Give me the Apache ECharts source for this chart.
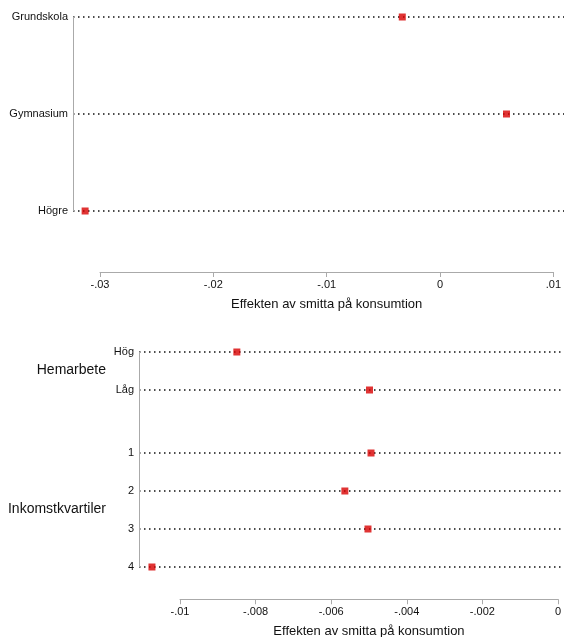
<!DOCTYPE html>
<html>
<head>
<meta charset="utf-8">
<script src="https://cdn.jsdelivr.net/npm/echarts@6/dist/echarts.min.js"></script>
<style>html,body{margin:0;padding:0;background:#fff}#c{width:564px;height:637px}</style>
</head>
<body>
<div id="c"></div>
<script>
const topCategories = ['Grundskola', 'Gymnasium', 'Högre'];
const topValues = [-0.0036, 0.0055, -0.0313];
const topTicks = ['-.03', '-.02', '-.01', '0', '.01'];

const hemCategories = ['Hög', 'Låg'];
const hemValues = [-0.0085, -0.0050];
const inkCategories = ['1', '2', '3', '4'];
const inkValues = [-0.00496, -0.00565, -0.00504, -0.01074];
const botTicks = ['-.01', '-.008', '-.006', '-.004', '-.002', '0'];

const axisTitle = 'Effekten av smitta på konsumtion';
const groupHem = 'Hemarbete';
const groupInk = 'Inkomstkvartiler';

const FONT = '"Liberation Sans", Arial, Helvetica, sans-serif';
const W = 564;
const RED = '#d80000';
const GREY = '#aaaaaa';

// top panel layout
const tAxisL = 100, tAxisR = 558, tMin = -0.03, tMax = 0.01;
const tScale = (tAxisR - tAxisL) / (tMax - tMin);
const tDataL = 73;
const tDataMin = tMin - (tAxisL - tDataL) / tScale;
const tDataMax = tMin + (W - tAxisL) / tScale;

// bottom panel layout
const bAxisL = 180, bAxisR = 559, bMin = -0.01, bMax = 0;
const bScale = (bAxisR - bAxisL) / (bMax - bMin);
const bDataL = 139;
const bDataMin = bMin - (bAxisL - bDataL) / bScale;
const bDataMax = bMin + (W - bAxisL) / bScale;

const dotted = { show: true, lineStyle: { color: '#111', width: 1.5, type: [1.5, 3.5] } };
const catLabel = { color: '#111', fontSize: 11, fontFamily: FONT, margin: 5 };

function hiddenX(gi, min, max) {
  return { type: 'value', gridIndex: gi, min: min, max: max, show: false, splitLine: { show: false } };
}
function catY(gi, cats, showLine) {
  return {
    type: 'category', gridIndex: gi, data: cats, inverse: true, boundaryGap: false,
    axisLine: { show: showLine, onZero: false, lineStyle: { color: GREY, width: 1 } },
    axisTick: { show: false },
    axisLabel: catLabel,
    splitLine: dotted
  };
}
function scatter(xi, yi, cats, vals) {
  return {
    type: 'scatter', xAxisIndex: xi, yAxisIndex: yi, symbol: 'rect', symbolSize: 7,
    itemStyle: { color: RED }, z: 5, clip: false,
    data: cats.map((c, i) => [vals[i], c])
  };
}
function tickAxis(gi, min, max, interval, ticks) {
  return {
    type: 'value', gridIndex: gi, min: min, max: max, interval: interval, position: 'bottom',
    axisLine: { show: true, onZero: false, lineStyle: { color: GREY, width: 1 } },
    axisTick: { show: true, length: 5, lineStyle: { color: GREY } },
    axisLabel: { color: '#111', fontSize: 11, fontFamily: FONT, margin: 7,
      formatter: function (v, i) { return ticks[i]; } },
    splitLine: { show: false },
    name: axisTitle, nameLocation: 'middle', nameGap: 26,
    nameTextStyle: { color: '#111', fontSize: 13, fontFamily: FONT }
  };
}

const chart = echarts.init(document.getElementById('c'), null, { renderer: 'canvas' });
chart.setOption({
  animation: false,
  backgroundColor: '#fff',
  grid: [
    { left: tDataL, right: 0, top: 17, height: 194 },               // 0 top data
    { left: tAxisL, width: tAxisR - tAxisL, top: 271, height: 1 },  // 1 top x axis
    { left: bDataL, right: 0, top: 352, height: 38 },               // 2 Hemarbete
    { left: bDataL, right: 0, top: 453, height: 114 },              // 3 Inkomst
    { left: bDataL, width: 1, top: 352, height: 215 },              // 4 shared y-axis line
    { left: bAxisL, width: bAxisR - bAxisL, top: 599, height: 1 }   // 5 bottom x axis
  ],
  xAxis: [
    hiddenX(0, tDataMin, tDataMax),
    tickAxis(1, tMin, tMax, 0.01, topTicks),
    hiddenX(2, bDataMin, bDataMax),
    hiddenX(3, bDataMin, bDataMax),
    { type: 'value', gridIndex: 4, show: false },
    tickAxis(5, bMin, bMax, 0.002, botTicks)
  ],
  yAxis: [
    catY(0, topCategories, true),
    { type: 'value', gridIndex: 1, show: false },
    catY(2, hemCategories, false),
    catY(3, inkCategories, false),
    { type: 'value', gridIndex: 4, axisLine: { show: true, onZero: false, lineStyle: { color: GREY, width: 1 } },
      axisTick: { show: false }, axisLabel: { show: false }, splitLine: { show: false } },
    { type: 'value', gridIndex: 5, show: false }
  ],
  graphic: [
    { type: 'text', right: W - 106, top: 371 - 8, style: { text: groupHem, fill: '#111', fontSize: 14, fontFamily: FONT } },
    { type: 'text', right: W - 106, top: 510 - 8, style: { text: groupInk, fill: '#111', fontSize: 14, fontFamily: FONT } }
  ],
  series: [
    scatter(0, 0, topCategories, topValues),
    scatter(2, 2, hemCategories, hemValues),
    scatter(3, 3, inkCategories, inkValues)
  ]
});
</script>
</body>
</html>
